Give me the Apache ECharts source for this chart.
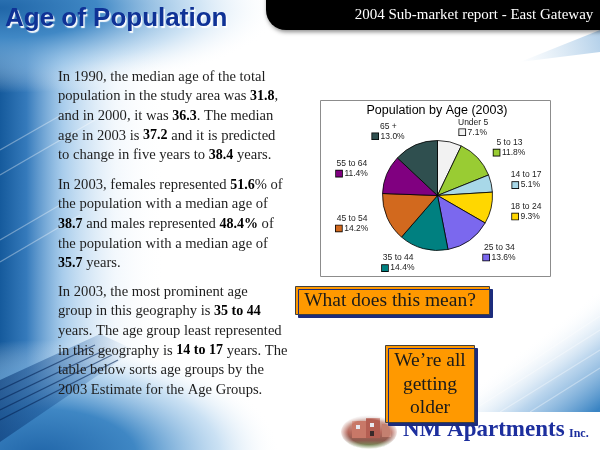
<!DOCTYPE html>
<html><head><meta charset="utf-8">
<script src="https://cdn.jsdelivr.net/npm/echarts@6/dist/echarts.min.js"></script>
<style>html,body{margin:0;padding:0;background:#fff}#c{width:600px;height:450px}</style>
</head><body><div id="c"></div>
<script>
// ---- data ----
const categories = ['Under 5', '5 to 13', '14 to 17', '18 to 24', '25 to 34', '35 to 44', '45 to 54', '55 to 64', '65 +'];
const shares = [7.1, 11.8, 5.1, 9.3, 13.6, 14.4, 14.2, 11.4, 13.0];
const sliceColors = ['#f2f2f2', '#99cc33', '#a8d8e8', '#ffd700', '#7b68ee', '#008080', '#d2691e', '#800080', '#2f4f4f'];
const chartTitle = 'Population by Age (2003)';
const pageTitle = 'Age of Population';
const headerText = '2004 Sub-market report - East Gateway';
const para1 = [
  'In 1990, the median age of the total',
  'population in the study area was {b|31.8},',
  'and in 2000, it was {b|36.3}. The median',
  'age in 2003 is {b|37.2} and it is predicted',
  'to change in five years to {b|38.4} years.'
];
const para2 = [
  'In 2003, females represented {b|51.6}% of',
  'the population with a median age of',
  '{b|38.7} and males represented {b|48.4%} of',
  'the population with a median age of',
  '{b|35.7} years.'
];
const para3 = [
  'In 2003, the most prominent age',
  'group in this geography is {b|35 to 44}',
  'years. The age group least represented',
  'in this geography is {b|14 to 17} years. The',
  'table below sorts age groups by the',
  '2003 Estimate for the Age Groups.'
];
const question = 'What does this mean?';
const answer = ['We\u2019re all', 'getting', 'older'];
const brand = 'NM Apartments';
const brandSuffix = 'Inc.';

// ---- chart ----
const chart = echarts.init(document.getElementById('c'), null, {renderer: 'canvas'});
const LH = 19.6;
const bodyFont = 'Liberation Serif';
function para(lines, y) {
  return {
    type: 'text', z: 3, x: 58, y: y - LH / 2,
    style: {
      text: lines.join('\n'), fill: '#1e1e1e', fontFamily: bodyFont, fontSize: 14.6,
      lineHeight: LH, verticalAlign: 'top', align: 'left',
      rich: { b: { fontWeight: 'bold', fontFamily: bodyFont, fontSize: 14, lineHeight: LH, fill: '#000' } }
    }
  };
}
const rich = {
  n: { fontFamily: 'Liberation Sans', fontSize: 8.5, color: '#222', align: 'center', lineHeight: 10 },
  v: { fontFamily: 'Liberation Sans', fontSize: 8.5, color: '#222', align: 'center', lineHeight: 10 }
};
sliceColors.forEach((c, i) => {
  rich['s' + i] = { width: 6, height: 6, backgroundColor: c, borderColor: '#000', borderWidth: 0.8, align: 'center' };
});

const bg = [
  { type: 'rect', z: 0, shape: { x: 0, y: 0, width: 600, height: 450 }, style: { fill: '#ffffff' } },
  { type: 'rect', z: 0, shape: { x: 0, y: 0, width: 165, height: 450 },
    style: { fill: new echarts.graphic.LinearGradient(0, 0, 1, 0, [
      { offset: 0, color: '#155a9c' }, { offset: 0.16, color: '#357abb' },
      { offset: 0.38, color: 'rgba(135,185,228,0.72)' }, { offset: 0.7, color: 'rgba(215,232,247,0.3)' },
      { offset: 1, color: 'rgba(255,255,255,0)' }]) } },
  { type: 'group', z: 0, x: 0, y: 8, scaleX: 2.8, scaleY: 0.85, children: [
    { type: 'circle', z: 0, shape: { cx: 0, cy: 0, r: 100 },
      style: { fill: new echarts.graphic.RadialGradient(0.5, 0.5, 0.5, [
        { offset: 0, color: '#2066a8' }, { offset: 0.35, color: '#4088c5' },
        { offset: 0.7, color: 'rgba(155,198,233,0.5)' }, { offset: 1, color: 'rgba(255,255,255,0)' }]) } }
  ]},
  { type: 'group', z: 0, x: 40, y: 455, scaleX: 2.4, scaleY: 1.15, children: [
    { type: 'circle', z: 0, shape: { cx: 0, cy: 0, r: 100 },
      style: { fill: new echarts.graphic.RadialGradient(0.5, 0.5, 0.5, [
        { offset: 0, color: '#2166a9' }, { offset: 0.4, color: '#3f87c4' },
        { offset: 0.75, color: 'rgba(150,195,232,0.5)' }, { offset: 1, color: 'rgba(255,255,255,0)' }]) } }
  ]},
  { type: 'polygon', z: 0, shape: { points: [[0, 380], [100, 334], [135, 350], [0, 442]] },
    style: { fill: { type: 'linear', x: 0, y: 0, x2: 135, y2: 0, global: true, colorStops: [
      { offset: 0, color: 'rgba(10,55,115,0.6)' }, { offset: 0.6, color: 'rgba(25,85,155,0.3)' },
      { offset: 1, color: 'rgba(40,110,180,0)' }] } } },
  { type: 'polygon', z: 0, shape: { points: [[440, 412], [600, 412], [600, 290]] },
    style: { fill: { type: 'linear', x: 520, y: 351, x2: 578, y2: 425, global: true, colorStops: [
      { offset: 0, color: 'rgba(255,255,255,0)' }, { offset: 0.5, color: 'rgba(140,185,225,0.6)' },
      { offset: 1, color: '#3a84c3' }] } } },
  { type: 'polygon', z: 0, shape: { points: [[520, 62], [600, 30], [600, 52]] },
    style: { fill: { type: 'linear', x: 520, y: 62, x2: 600, y2: 40, global: true, colorStops: [
      { offset: 0, color: 'rgba(180,210,235,0)' }, { offset: 1, color: 'rgba(150,190,225,0.7)' }] } } }
];
// streaks
const streaks = [
  [[0, 150], [70, 110]], [[0, 175], [95, 120]], [[0, 240], [60, 205]], [[0, 262], [80, 215]],
  [[0, 390], [95, 345]], [[0, 400], [105, 350]], [[0, 410], [112, 355]], [[0, 420], [118, 360]],
  [[470, 412], [600, 330]], [[500, 412], [600, 350]], [[530, 412], [600, 368]], [[455, 412], [600, 316]]
];
streaks.forEach((s, i) => {
  bg.push({ type: 'line', z: 0, shape: { x1: s[0][0], y1: s[0][1], x2: s[1][0], y2: s[1][1] },
    style: { stroke: (i >= 4 && i < 8) ? 'rgba(5,35,85,0.6)' : 'rgba(255,255,255,0.35)', lineWidth: 1.2 } });
});

const fg = [
  // header tab
  { type: 'rect', z: 2, shape: { x: 266, y: -30, width: 350, height: 60, r: [0, 0, 0, 20] },
    style: { fill: '#000', shadowColor: 'rgba(0,0,0,0.45)', shadowBlur: 4, shadowOffsetX: 1, shadowOffsetY: 2 } },
  { type: 'text', z: 3, x: 474, y: 15, style: { text: headerText, fill: '#fff', fontFamily: bodyFont, fontSize: 15, align: 'center', verticalAlign: 'middle' } },
  { type: 'text', z: 3, x: 5, y: 19, style: { text: pageTitle, fill: '#0f3296', fontFamily: 'Liberation Sans', fontWeight: 'bold', fontSize: 26,
      align: 'left', verticalAlign: 'middle',
      textShadowColor: 'rgba(255,255,255,0.95)', textShadowOffsetX: 1.5, textShadowOffsetY: 1.5, textShadowBlur: 1 } },
  para(para1, 77), para(para2, 185), para(para3, 292),
  // chart box
  { type: 'rect', z: 1, shape: { x: 320.5, y: 100.5, width: 230, height: 176 },
    style: { fill: '#fff', stroke: '#8c8c8c', lineWidth: 1 } },
  { type: 'text', z: 3, x: 437, y: 111, style: { text: chartTitle, fill: '#000', fontFamily: 'Liberation Sans', fontSize: 12.5, align: 'center', verticalAlign: 'middle' } },
  // orange boxes
  { type: 'rect', z: 4, shape: { x: 295.5, y: 286.5, width: 194, height: 28 },
    style: { fill: '#ff9900', stroke: '#404040', lineWidth: 1, shadowColor: '#1c2c7c', shadowOffsetX: 3, shadowOffsetY: 3 } },
  { type: 'text', z: 5, x: 390, y: 300.5, style: { text: question, fill: '#1a1a1a', fontFamily: bodyFont, fontSize: 19.5, align: 'center', verticalAlign: 'middle' } },
  { type: 'rect', z: 4, shape: { x: 385.5, y: 345.5, width: 89, height: 77 },
    style: { fill: '#ff9900', stroke: '#404040', lineWidth: 1, shadowColor: '#1c2c7c', shadowOffsetX: 3, shadowOffsetY: 3 } },
  { type: 'text', z: 5, x: 430, y: 384.5, style: { text: answer.join('\n'), fill: '#1a1a1a', fontFamily: bodyFont, fontSize: 19.5, lineHeight: 23.5, align: 'center', verticalAlign: 'middle' } },
  // logo
  { type: 'group', z: 3, x: 369, y: 432, scaleX: 1, scaleY: 0.6, children: [
    { type: 'circle', z: 3, shape: { cx: 0, cy: 0, r: 28 },
      style: { fill: new echarts.graphic.LinearGradient(0, 0, 0, 1, [
        { offset: 0, color: '#eef0f3' }, { offset: 0.25, color: '#c9968a' }, { offset: 0.5, color: '#b8685c' },
        { offset: 0.75, color: '#8c5a4e' }, { offset: 0.9, color: '#7a8a5a' }, { offset: 1, color: '#9aa87a' }]) } }
  ]},
  { type: 'rect', z: 3, shape: { x: 352, y: 421, width: 14, height: 17 }, style: { fill: '#c87868' } },
  { type: 'rect', z: 3, shape: { x: 366, y: 418, width: 14, height: 20 }, style: { fill: '#b45e52' } },
  { type: 'rect', z: 3, shape: { x: 356, y: 425, width: 4, height: 4 }, style: { fill: '#e8e8f0' } },
  { type: 'rect', z: 3, shape: { x: 370, y: 423, width: 4, height: 4 }, style: { fill: '#e8e8f0' } },
  { type: 'rect', z: 3, shape: { x: 370, y: 431, width: 4, height: 5 }, style: { fill: '#3a2a2a' } },
  { type: 'rect', z: 3, shape: { x: 382, y: 424, width: 9, height: 13 }, style: { fill: '#c48070' } },
  { type: 'group', z: 3, x: 369, y: 432, scaleX: 1, scaleY: 0.6, children: [
    { type: 'circle', z: 3, shape: { cx: 0, cy: 0, r: 29 },
      style: { fill: new echarts.graphic.RadialGradient(0.5, 0.5, 0.5, [
        { offset: 0, color: 'rgba(255,255,255,0)' }, { offset: 0.72, color: 'rgba(255,255,255,0)' },
        { offset: 1, color: 'rgba(255,255,255,0.95)' }]) } }
  ]},
  { type: 'text', z: 3, x: 403, y: 430, style: { text: brand, fill: '#1d2f9e', fontFamily: bodyFont, fontWeight: 'bold', fontSize: 23, align: 'left', verticalAlign: 'middle' } },
  { type: 'text', z: 3, x: 569, y: 433.5, style: { text: brandSuffix, fill: '#1d2f9e', fontFamily: bodyFont, fontWeight: 'bold', fontSize: 12, align: 'left', verticalAlign: 'middle' } }
];

chart.setOption({
  animation: false,
  graphic: { elements: bg.concat(fg) },
  series: [{
    type: 'pie', z: 2, silent: true,
    center: [437.5, 195.5], radius: 55,
    startAngle: 90, clockwise: true, avoidLabelOverlap: false,
    data: categories.map((n, i) => ({ name: n, value: shares[i], itemStyle: { color: sliceColors[i] } })),
    itemStyle: { borderColor: '#000', borderWidth: 0.8 },
    label: {
      show: true, position: 'outside', distanceToLabelLine: 5,
      formatter: p => '{n|' + p.name + '}\n{s' + p.dataIndex + '|}{v| ' + p.value.toFixed(1) + '%}',
      rich: rich
    },
    labelLine: { show: false, length: 15, length2: 0 },
    emphasis: { disabled: true }
  }]
});
</script></body></html>
